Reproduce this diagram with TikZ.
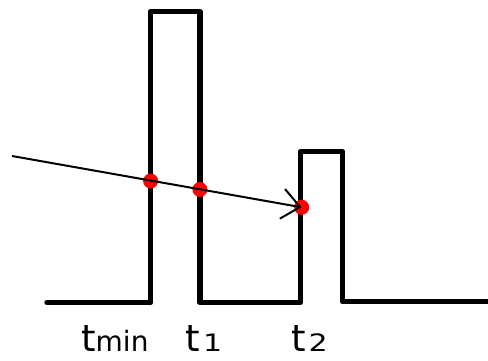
\documentclass[tikz,border=0pt]{standalone}
\usepackage{fontspec}
\setmainfont{DejaVu Sans}
\usetikzlibrary{arrows.meta}
\tikzset{
  stepline/.style={line width=5.5pt, line join=round, line cap=round, black},
  ray/.style={line width=2pt, black, -{Straight Barb[length=18pt,width=30pt,line width=2pt]}},
  hit/.style={circle, fill=red, inner sep=0pt, minimum size=15pt},
  lab/.style={anchor=base west, inner sep=0pt, font=\fontsize{37}{37}\selectfont},
}
\newcommand{\subtxt}[1]{{\fontsize{28}{28}\selectfont #1}}
\newcommand{\subdig}[1]{\scalebox{1.25}[1]{\fontsize{24}{24}\selectfont #1}}
\begin{document}
\begin{tikzpicture}[x=1pt,y=-1pt]
\useasboundingbox (0,0) rectangle (488,361);
% step signal
\draw[stepline] (47,302.5) -- (150.5,302.5) -- (150.5,11.5) -- (199.8,11.5) -- (199.8,302.3)
  -- (300.5,302.3) -- (300.5,151.7) -- (342.5,151.7) -- (342.5,301.5) -- (490,301.5);
% intersection points
\node[hit] (p0) at (150.6,181) {};
\node[hit] (p1) at (199.9,189.5) {};
\node[hit] (p2) at (301.7,207.3) {};
\coordinate (s) at (12,156);
\draw[ray] (s) -- (p2.center);
% labels
\node[lab] (lmin) at (81,351) {t\subtxt{min}};
\node[lab] (l1) at (185.5,351) {t\hspace{3pt}\subdig{1}};
\node[lab] (l2) at (291,351) {t\hspace{3pt}\subdig{2}};
\end{tikzpicture}
\end{document}
